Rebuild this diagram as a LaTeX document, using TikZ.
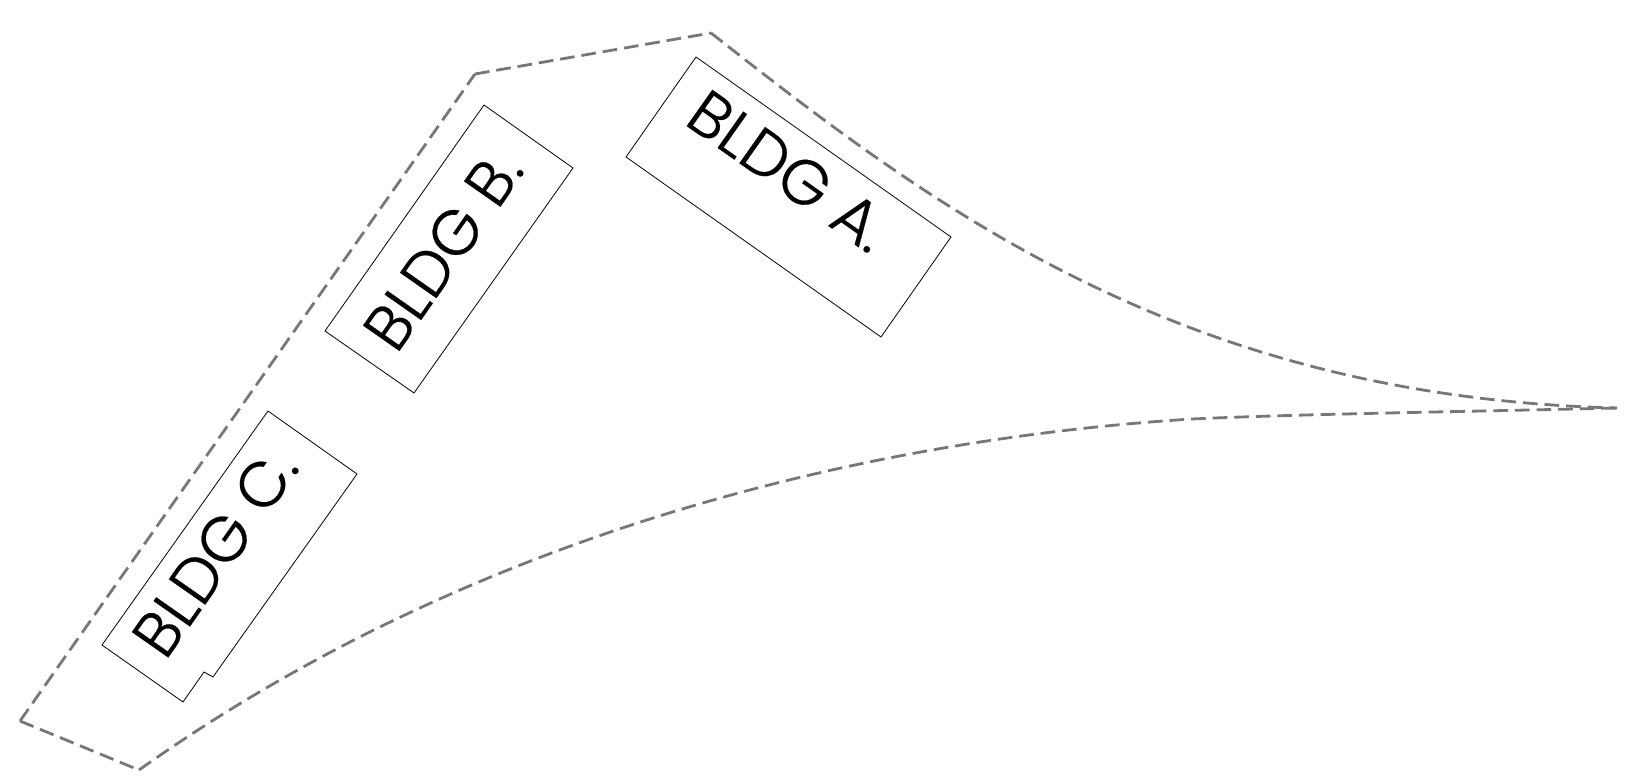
\documentclass[tikz,border=0pt]{standalone}
\usepackage{fontspec}
\setmainfont{Poppins}[UprightFont=* Light,FakeBold=0.35]
\definecolor{sitegray}{HTML}{777777}
\tikzset{
  site/.style={draw=sitegray,line width=2.1pt,dash pattern=on 11pt off 5.2pt,line join=miter},
  bldg/.style={draw=black,line width=0.6pt,line join=miter},
  lbl/.style={font=\fontsize{47.5}{58}\selectfont,inner sep=0pt,text=black}
}
\begin{document}
\begin{tikzpicture}[x=0.75pt,y=-0.75pt]
\useasboundingbox (0,0) rectangle (1625,784);
\coordinate (s1) at (20,721);
\coordinate (s2) at (475,74);
\coordinate (s3) at (711,33);
\coordinate (tip) at (1617,408);
\coordinate (s4) at (139,770);
\coordinate (m) at (1192,419);
\draw[site] (s1) -- (s4);
\draw[site] (s1) -- (s2);
\draw[site] (s2) -- (s3);
\draw[site] (s3) .. controls (930,205) and (1180,397) .. (tip);
\draw[site] (s4) .. controls (470,535) and (860,440) .. (m)
  .. controls (1300,414) and (1450,412) .. (tip);
\draw[bldg] (696,57) -- (951,237) -- (881,337) -- (626,157) -- cycle;
\draw[bldg] (484,105) -- (573,168) -- (414,393) -- (325,331) -- cycle;
\draw[bldg] (268,411) -- (357,474) -- (213,677) -- (204,672) -- (183,702) -- (102,645) -- cycle;
\node[lbl,rotate=-35.2] (a) at (789,171) {BLDG A.};
\node[lbl,rotate=55] (b) at (443,250) {BLDG B.};
\node[lbl,rotate=55] (c) at (215,552) {BLDG C.};
\end{tikzpicture}
\end{document}
